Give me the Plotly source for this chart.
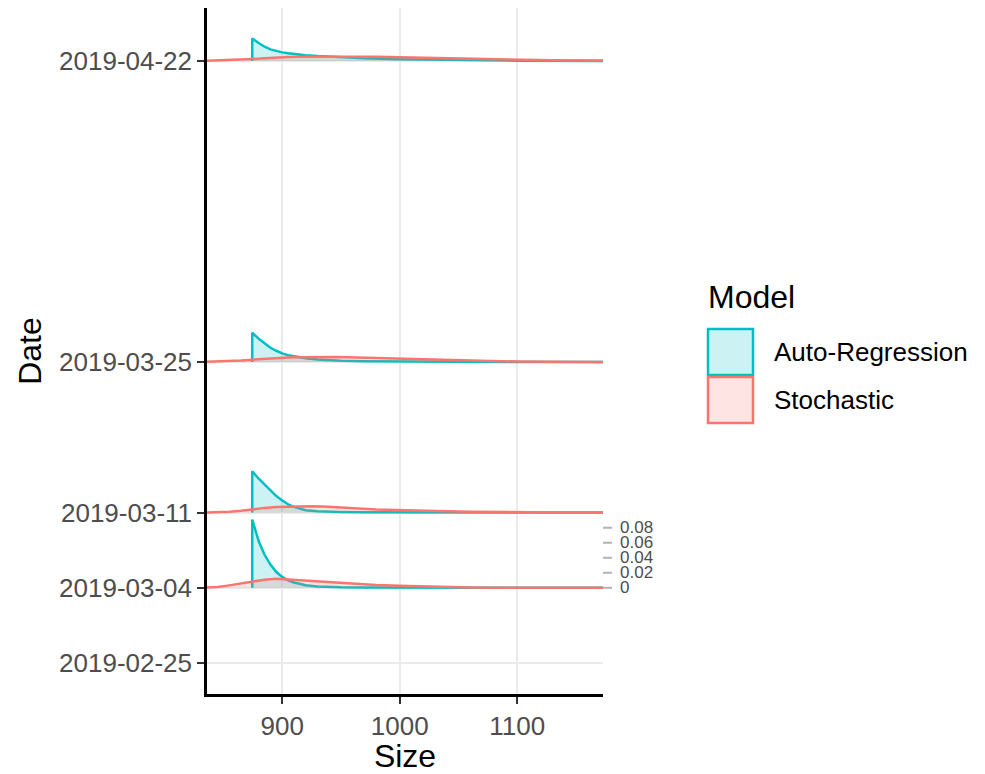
import pandas as pd
import plotly.graph_objects as go

# ---------------- data ----------------
tick_dates = ["2019-02-25", "2019-03-04", "2019-03-11", "2019-03-25", "2019-04-22"]
ridge_dates = ["2019-04-22", "2019-03-25", "2019-03-11", "2019-03-04"]

# Auto-Regression densities (x grid starts at a hard lower bound)
ar_x = [874.5, 874.5, 880, 885, 890, 895, 900, 905, 910, 920, 930, 940, 950, 970, 1000, 1050, 1100, 1173]
ar_density = {
    "2019-03-04": [0, 0.091, 0.062, 0.044, 0.031, 0.021, 0.0145, 0.010, 0.007, 0.0035, 0.0018, 0.001, 0.0006, 0.0003, 0.0001, 0, 0, 0],
    "2019-03-11": [0, 0.055, 0.045, 0.037, 0.029, 0.022, 0.016, 0.011, 0.0075, 0.003, 0.0016, 0.001, 0.0007, 0.0004, 0.0002, 0.0001, 0, 0],
    "2019-03-25": [0, 0.039, 0.031, 0.025, 0.019, 0.015, 0.0115, 0.0092, 0.0075, 0.005, 0.0033, 0.0023, 0.0017, 0.001, 0.0005, 0.0002, 0.0001, 0],
    "2019-04-22": [0, 0.030, 0.024, 0.019, 0.0155, 0.013, 0.0115, 0.0103, 0.0093, 0.0078, 0.0066, 0.0056, 0.0048, 0.0035, 0.0022, 0.001, 0.0004, 0],
}

# Stochastic densities
st_x = [836, 845, 855, 865, 875, 885, 895, 905, 915, 925, 935, 945, 955, 965, 980, 1000, 1020, 1040, 1060, 1080, 1100, 1130, 1173]
st_density = {
    "2019-03-04": [0.0003, 0.001, 0.0032, 0.0058, 0.0084, 0.0108, 0.012, 0.011, 0.0098, 0.0094, 0.0088, 0.0075, 0.006, 0.005, 0.0038, 0.0027, 0.0017, 0.0009, 0.0004, 0.0002, 0.0001, 0, 0],
    "2019-03-11": [0.0002, 0.0005, 0.0011, 0.0023, 0.0044, 0.0062, 0.0074, 0.008, 0.0083, 0.0084, 0.008, 0.0074, 0.0064, 0.0054, 0.0042, 0.0031, 0.0024, 0.0018, 0.0012, 0.0007, 0.0004, 0.0002, 0],
    "2019-03-25": [0.0002, 0.0005, 0.001, 0.0019, 0.0031, 0.0042, 0.0051, 0.0059, 0.0064, 0.0067, 0.0067, 0.0066, 0.0063, 0.0059, 0.0052, 0.004, 0.003, 0.0022, 0.0015, 0.001, 0.0006, 0.0002, 0],
    "2019-04-22": [0.0004, 0.0008, 0.0013, 0.002, 0.0027, 0.0036, 0.0046, 0.0052, 0.0055, 0.0057, 0.0058, 0.0058, 0.0058, 0.0057, 0.0055, 0.0049, 0.0042, 0.0034, 0.0026, 0.0019, 0.0014, 0.001, 0.0007],
}

density_ticks = [0, 0.02, 0.04, 0.06, 0.08]
density_tick_labels = ["0", "0.02", "0.04", "0.06", "0.08"]
density_ref_date = "2019-03-04"

x_ticks = [900, 1000, 1100]
x_range = [836, 1173]

models = ["Auto-Regression", "Stochastic"]
line_colors = {"Auto-Regression": "#00BFC4", "Stochastic": "#F8766D"}
fill_colors = {"Auto-Regression": "rgba(0,191,196,0.2)", "Stochastic": "rgba(248,118,109,0.2)"}

# ---------------- helpers ----------------
BASE = pd.Timestamp("2019-02-25")
SCALE = 69.8  # days per density unit (ridge height scaling)


def day(d):
    return (pd.Timestamp(d) - BASE).days


FONT = "Liberation Sans, Arial, Helvetica, sans-serif"

fig = go.Figure()

for d in ridge_dates:
    b = day(d)
    for m, xs, dens in (("Auto-Regression", ar_x, ar_density[d]), ("Stochastic", st_x, st_density[d])):
        ys = [b + v * SCALE for v in dens]
        px = list(xs) + [xs[-1], xs[0]]
        py = ys + [b, b]
        fig.add_trace(go.Scatter(x=px, y=py, mode="lines", fill="toself",
                                 fillcolor=fill_colors[m], line=dict(width=0),
                                 hoverinfo="skip", showlegend=False))
        fig.add_trace(go.Scatter(x=xs, y=ys, mode="lines",
                                 line=dict(color=line_colors[m], width=2.5),
                                 name=m, showlegend=False))

# density scale on right
ref = day(density_ref_date)
shapes = []
annotations = []
for v, lab in zip(density_ticks, density_tick_labels):
    yy = ref + v * SCALE
    shapes.append(dict(type="line", xref="paper", yref="y", x0=1.0, x1=1.023, y0=yy, y1=yy,
                       line=dict(color="#b3b3b3", width=2)))
    annotations.append(dict(xref="paper", yref="y", x=1.038, y=yy, text=lab, showarrow=False,
                            xanchor="left", yanchor="middle",
                            font=dict(family=FONT, size=17, color="#4d4d4d")))

# manual legend (positions in page pixels of the plot frame)
PW, PH, L, B = 396, 686, 207, 694


def px2x(p):
    return (p - L) / PW


def px2y(p):
    return (B - p) / PH


annotations.append(dict(xref="paper", yref="paper", x=px2x(706), y=px2y(297), text="Model",
                        showarrow=False, xanchor="left", yanchor="middle",
                        font=dict(family=FONT, size=32, color="black")))
boxes = [(329, 375), (377, 423)]
label_y = [352, 400]
for m, (t, bt), ly in zip(models, boxes, label_y):
    shapes.append(dict(type="rect", xref="paper", yref="paper",
                       x0=px2x(708), x1=px2x(753), y0=px2y(bt), y1=px2y(t),
                       fillcolor=fill_colors[m], line=dict(color=line_colors[m], width=2.5)))
    annotations.append(dict(xref="paper", yref="paper", x=px2x(772), y=px2y(ly), text=m,
                            showarrow=False, xanchor="left", yanchor="middle",
                            font=dict(family=FONT, size=26, color="black")))

# the page body adds an 8px offset; size and margins compensate for it
fig.update_layout(
    width=977, height=766,
    margin=dict(l=199, r=382, t=0, b=80),
    paper_bgcolor="white", plot_bgcolor="white",
    font=dict(family=FONT),
    shapes=shapes, annotations=annotations,
    showlegend=False,
)
fig.update_xaxes(
    range=x_range, tickvals=x_ticks, ticktext=[str(t) for t in x_ticks],
    showgrid=True, gridcolor="#ebebeb", gridwidth=2,
    showline=True, linecolor="black", linewidth=2.5,
    ticks="outside", ticklen=7, tickwidth=2, tickcolor="#333333",
    tickfont=dict(family=FONT, size=26, color="#4d4d4d"),
    title=dict(text="Size", font=dict(family=FONT, size=32, color="black"), standoff=8),
    zeroline=False,
)
fig.update_yaxes(
    range=[-2.88, 60.93], tickvals=[day(d) for d in tick_dates], ticktext=tick_dates,
    showgrid=True, gridcolor="#ebebeb", gridwidth=2,
    showline=True, linecolor="black", linewidth=2.5,
    ticks="outside", ticklen=7, tickwidth=2, tickcolor="#333333",
    tickfont=dict(family=FONT, size=26, color="#4d4d4d"),
    title=dict(text="Date", font=dict(family=FONT, size=32, color="black"), standoff=8),
    zeroline=False,
)

fig.write_html("out.html")
